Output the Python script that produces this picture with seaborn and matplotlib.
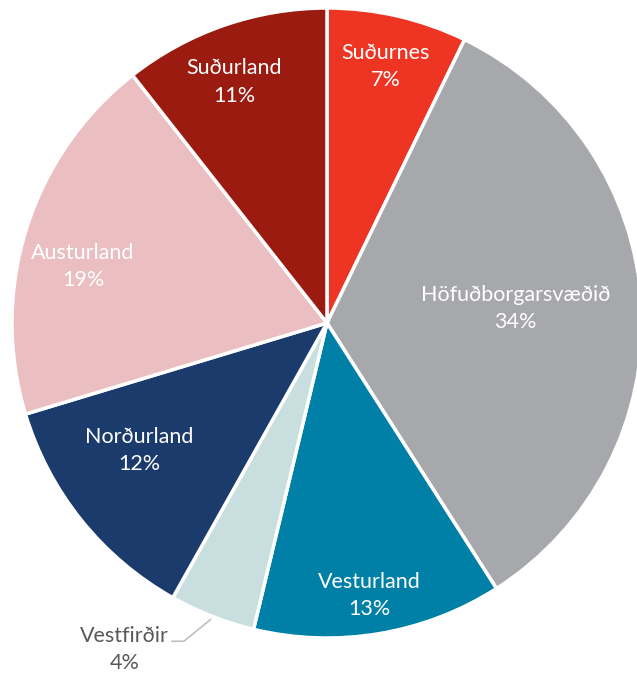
import numpy as np
import matplotlib
matplotlib.use("Agg")
import matplotlib.pyplot as plt
import seaborn as sns

regions = ["Suðurnes", "Höfuðborgarsvæðið", "Vesturland", "Vestfirðir",
           "Norðurland", "Austurland", "Suðurland"]
shares = [7.2, 33.8, 12.8, 4.4, 12.2, 19.1, 10.6]
pct_labels = ["7%", "34%", "13%", "4%", "12%", "19%", "11%"]
colors = ["#EE3524", "#A7A8AB", "#0080A6", "#C9DEDF", "#1B3B6C", "#EBBFC1", "#9B1B10"]

sns.set_theme(style="white")
plt.rcParams['font.family'] = ['Lato', 'DejaVu Sans']

W, H, DPI = 637, 677, 100
fig = plt.figure(figsize=(W / DPI, H / DPI), dpi=DPI)
ax = fig.add_axes([0, 0, 1, 1])
cx, cy, R = 327, 323, 315
ax.axis("off")

wedges, _ = ax.pie(shares, colors=colors, startangle=90, counterclock=False,
                   radius=1.0, center=(0, 0),
                   wedgeprops=dict(edgecolor="white", linewidth=2.5))
ax.set_xlim(-cx / R, (W - cx) / R)
ax.set_ylim(-(H - cy) / R, cy / R)
ax.set_aspect("auto")

FS = 15.5
label_r = [0.835, 0.60, 0.875, None, 0.72, 0.795, 0.82]
angle_adj = [0, 1, -0.7, 0, -4.5, 4.5, 2]
for w, name, pct, lr, adj in zip(wedges, regions, pct_labels, label_r, angle_adj):
    mid = np.deg2rad((w.theta1 + w.theta2) / 2 + adj)
    if lr is not None:
        x, y = lr * np.cos(mid), lr * np.sin(mid)
        ax.text(x, y, f"{name}\n{pct}", ha="center", va="center", color="white",
                fontsize=FS, linespacing=1.45)
    else:
        # outside label with leader line
        x0, y0 = 1.01 * np.cos(mid), 1.01 * np.sin(mid)
        x1, y1 = x0 - 0.086, y0 - 0.07
        x2 = x1 - 0.038
        ax.plot([x0, x1, x2], [y0, y1, y1], color="#BFBFBF", lw=1.2)
        ax.text(x2 - 0.01, y1 - 0.025, f"{name}\n{pct}", ha="right", va="center",
                color="#595959", fontsize=FS, linespacing=1.45, multialignment="center")

fig.savefig("out.png", dpi=DPI)
